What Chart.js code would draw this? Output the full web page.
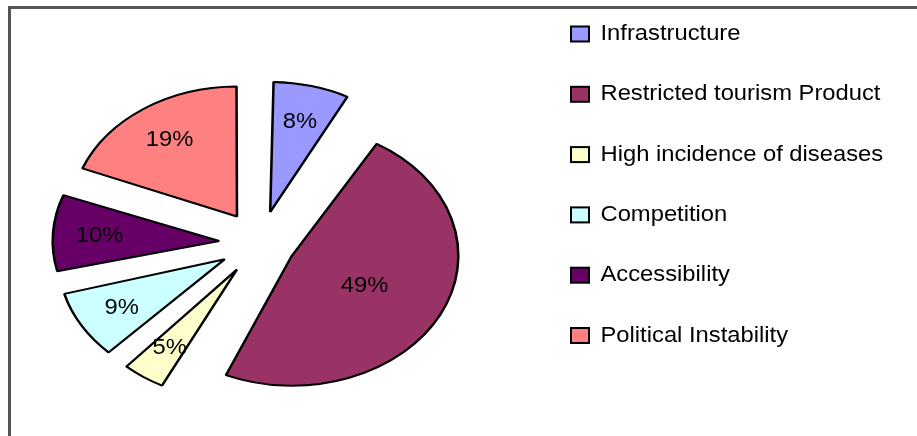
<!DOCTYPE html>
<html>
<head>
<meta charset="utf-8">
<title>Problems faced by tourism</title>
<script src="https://cdn.jsdelivr.net/npm/chart.js@4.4.1/dist/chart.umd.min.js"></script>
<style>
    html, body { margin: 0; padding: 0; background: #fff; overflow: hidden; }
    #wrap { position: relative; width: 917px; height: 436px; }
    #frame {
        position: absolute; left: 8px; top: 6px; width: 1000px; height: 1000px;
        border-left: 3px solid #555; border-top: 3px solid #555;
        pointer-events: none;
    }
</style>
</head>
<body>
<div id="wrap">
    <canvas id="pieChart"></canvas>
    <div id="frame"></div>
</div>
<script>
const categories = [
    'Infrastructure',
    'Restricted tourism Product',
    'High incidence of diseases',
    'Competition',
    'Accessibility',
    'Political Instability'
];
const shares = [8, 49, 5, 9, 10, 19];
const sliceColors = ['#9999FF', '#993366', '#FFFFCC', '#CCFFFF', '#660066', '#FF8080'];

const FONT = '"Liberation Sans", Arial, sans-serif';
const pieStretch = 1.28;   // the source pie is drawn wider than tall
const textStretch = 1.08;
const sliceOffsets = [32, 28, 32, 32, 32, 32];   // px each slice is pulled out
const pieRadius = 130;

function drawText(ctx, text, x, y, align) {
    ctx.save();
    ctx.translate(x, y);
    ctx.scale(textStretch, 1);
    ctx.textAlign = align;
    ctx.fillText(text, 0, 0);
    ctx.restore();
}

// squash the pie horizontally and put the percentages on it
const stretchedPie = {
    id: 'stretchedPie',
    beforeDatasetsDraw(chart) {
        const meta = chart.getDatasetMeta(0);
        // Chart.js grows an offset arc by offset * (1 - sin(angle)); undo that so all slices share one radius
        meta.data.forEach((arc, i) => {
            const fix = 1 - Math.sin(Math.min(Math.PI, arc.circumference));
            arc.outerRadius = pieRadius - sliceOffsets[i] * fix;
        });
        const cx = meta.data[0].x;
        const ctx = chart.ctx;
        ctx.save();
        ctx.translate(cx, 0);
        ctx.scale(pieStretch, 1);
        ctx.translate(-cx, 0);
    },
    afterDatasetsDraw(chart) {
        const ctx = chart.ctx;
        ctx.restore();

        const meta = chart.getDatasetMeta(0);
        ctx.save();
        ctx.fillStyle = '#000';
        ctx.font = `22px ${FONT}`;
        ctx.textBaseline = 'middle';
        meta.data.forEach((arc, i) => {
            const value = shares[i];
            const mid = (arc.startAngle + arc.endAngle) / 2;
            const frac = value > 40 ? 0.49 : 0.72;
            const dist = sliceOffsets[i] + frac * pieRadius;
            const x = arc.x + pieStretch * dist * Math.cos(mid);
            const y = arc.y + dist * Math.sin(mid);
            drawText(ctx, `${value}%`, x, y + 1, 'center');
        });
        ctx.restore();
    }
};

const sideLegend = {
    id: 'sideLegend',
    afterDraw(chart) {
        const ctx = chart.ctx;
        const ds = chart.data.datasets[0];
        ctx.save();
        ctx.font = `22px ${FONT}`;
        ctx.textBaseline = 'alphabetic';
        chart.data.labels.forEach((label, i) => {
            const base = 40 + i * 60.3;
            ctx.fillStyle = ds.backgroundColor[i];
            ctx.fillRect(571, base - 13.5, 18, 15);
            ctx.lineWidth = 2;
            ctx.strokeStyle = '#000';
            ctx.strokeRect(571, base - 13.5, 18, 15);
            ctx.fillStyle = '#000';
            drawText(ctx, label, 600.5, base, 'left');
        });
        ctx.restore();
    }
};

function initializePieChart() {
    const ctx = document.getElementById('pieChart');
    if (!ctx) return;

    new Chart(ctx, {
        type: 'pie',
        data: {
            labels: categories,
            datasets: [{
                data: shares,
                backgroundColor: sliceColors,
                borderColor: '#000',
                borderWidth: 2,
                offset: sliceOffsets.map(o => o * 4),   // Chart.js shifts an arc by offset / 4
                radius: pieRadius
            }]
        },
        options: {
            responsive: true,
            maintainAspectRatio: false,
            animation: false,
            layout: {
                padding: { left: 0, right: 397, top: 50, bottom: 0 }
            },
            plugins: {
                legend: { display: false },
                tooltip: { enabled: false }
            }
        },
        plugins: [stretchedPie, sideLegend]
    });
}

initializePieChart();
</script>
</body>
</html>
